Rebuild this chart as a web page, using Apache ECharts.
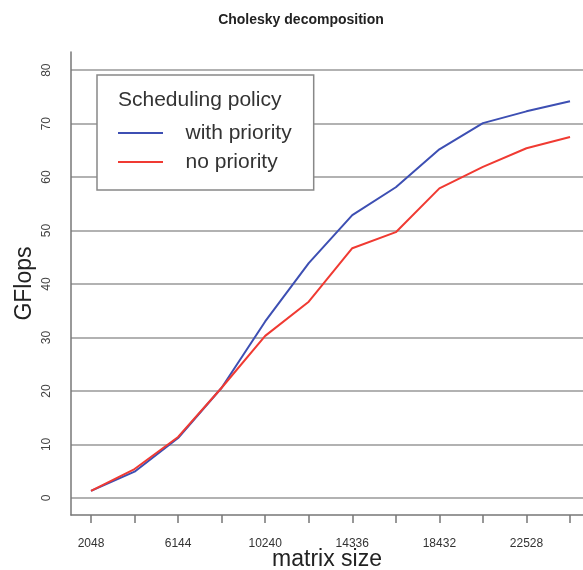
<!DOCTYPE html>
<html>
<head>
<meta charset="utf-8">
<script src="https://cdn.jsdelivr.net/npm/echarts@6/dist/echarts.min.js"></script>
<style>html,body{margin:0;padding:0;background:#fff;}#c{width:583px;height:570px;}</style>
</head>
<body>
<div id="c"></div>
<script>
var matrixSizes = [2048, 4096, 6144, 8192, 10240, 12288, 14336, 16384, 18432, 20480, 22528, 24576];
var withPriority = [1.3, 4.9, 11.2, 20.6, 33.0, 43.9, 52.9, 58.1, 65.2, 70.1, 72.3, 74.2];
var noPriority   = [1.3, 5.4, 11.4, 20.6, 30.3, 36.7, 46.7, 49.7, 57.9, 61.9, 65.4, 67.5];
var xTickLabels = [2048, 6144, 10240, 14336, 18432, 22528];
var yTickValues = [0, 10, 20, 30, 40, 50, 60, 70, 80];
var seriesNames = ['with priority', 'no priority'];

function pairs(xs, ys) { return xs.map(function (x, i) { return [x, ys[i]]; }); }

var FONT = '"Liberation Sans", Arial, Helvetica, sans-serif';
var chart = echarts.init(document.getElementById('c'), null, { renderer: 'canvas' });
chart.setOption({
  animation: false,
  backgroundColor: '#ffffff',
  textStyle: { fontFamily: FONT },
  title: [
    { text: 'Cholesky decomposition', left: 296, top: 8, textAlign: 'center',
      textStyle: { fontFamily: FONT, fontSize: 14, fontWeight: 'bold', color: '#222' } },
    { text: 'Scheduling policy', left: 113, top: 85, z: 10,
      textStyle: { fontFamily: FONT, fontSize: 21, fontWeight: 'normal', color: '#333' } }
  ],
  legend: {
    orient: 'vertical', left: 97, top: 75,
    padding: [46, 22, 16, 21],
    backgroundColor: '#ffffff', borderColor: '#888', borderWidth: 1.5,
    itemWidth: 45, itemHeight: 14, itemGap: 5,
    icon: 'path://M0,6 L45,6 L45,8 L0,8 Z',
    formatter: function (n) { return '   ' + n; },
    textStyle: { fontFamily: FONT, fontSize: 21, color: '#333', lineHeight: 24 },
    data: seriesNames
  },
  grid: { left: 71, top: 52, right: 0, bottom: 55, containLabel: false, outerBoundsMode: 'none' },
  xAxis: {
    type: 'value', min: 1107, max: 25187,
    name: 'matrix size', nameLocation: 'middle', nameGap: 33, nameMoveOverlap: false,
    nameTextStyle: { fontFamily: FONT, fontSize: 23, color: '#222', lineHeight: 24 },
    axisLine: { show: true, onZero: false, lineStyle: { color: '#777', width: 1.5 } },
    axisTick: { show: true, length: 8, customValues: matrixSizes, lineStyle: { color: '#777', width: 1.5 } },
    axisLabel: { customValues: xTickLabels, margin: 23, fontSize: 12, color: '#333', fontFamily: FONT,
      formatter: function (v) { return String(v); } },
    splitLine: { show: false }
  },
  yAxis: {
    type: 'value', min: -3.2, max: 83.4,
    name: 'GFlops', nameLocation: 'middle', nameGap: 35, nameRotate: 90, nameMoveOverlap: false,
    nameTextStyle: { fontFamily: FONT, fontSize: 23, color: '#222' },
    axisLine: { show: true, onZero: false, lineStyle: { color: '#777', width: 1.5 } },
    axisTick: { show: false, customValues: yTickValues },
    axisLabel: { customValues: yTickValues, rotate: 90, margin: 18, fontSize: 12, color: '#444', fontFamily: FONT,
      formatter: function (v) { return String(v); } },
    splitLine: { show: true, lineStyle: { color: '#999', width: 1.5 } }
  },
  series: [
    { name: seriesNames[0], type: 'line', data: pairs(matrixSizes, withPriority), showSymbol: false,
      lineStyle: { color: '#3d4fb3', width: 2 }, itemStyle: { color: '#3d4fb3' } },
    { name: seriesNames[1], type: 'line', data: pairs(matrixSizes, noPriority), showSymbol: false,
      lineStyle: { color: '#f03a32', width: 2 }, itemStyle: { color: '#f03a32' } }
  ]
});
</script>
</body>
</html>
